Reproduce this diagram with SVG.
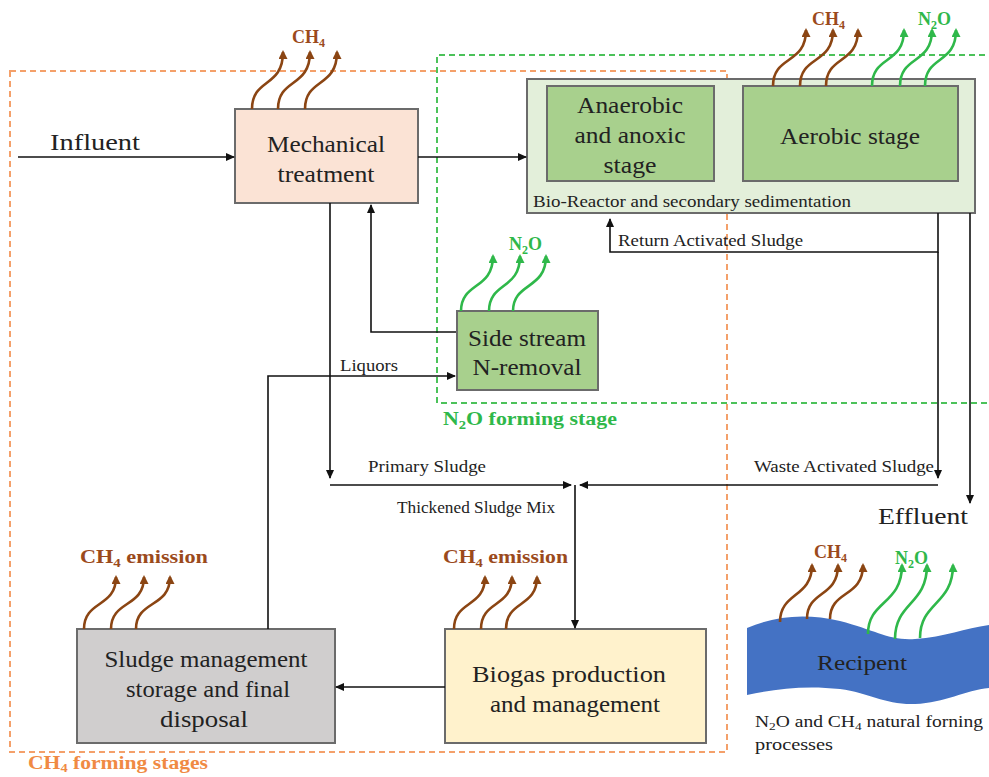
<svg xmlns="http://www.w3.org/2000/svg" width="989" height="777" viewBox="0 0 989 777" font-family="Liberation Serif, serif">
<style>
.box{stroke:#6b6b6b;stroke-width:2}
.t{fill:#222;text-anchor:middle}
.big{font-size:23px}
.sm{font-size:16px;fill:#222}
.con{fill:none;stroke:#111;stroke-width:1.6}
.ch4{fill:none;stroke:#8b4513;stroke-width:2.6}
.n2o{fill:none;stroke:#2fb84a;stroke-width:2.6}
.lb{font-weight:bold;font-size:18px}
.brn{fill:#9b4a1c}
.grn{fill:#2fb84a}
.org{fill:#f08a43}
</style>
<defs>
<marker id="ab" markerWidth="9" markerHeight="9" refX="8" refY="4.5" orient="auto" markerUnits="userSpaceOnUse"><path d="M0,0.5 L9,4.5 L0,8.5 Z" fill="#111"/></marker>
<marker id="mb" markerWidth="9" markerHeight="9" refX="7" refY="4.5" orient="auto" markerUnits="userSpaceOnUse"><path d="M0,0 L9,4.5 L0,9 Z" fill="#8b4513"/></marker>
<marker id="mg" markerWidth="9" markerHeight="9" refX="7" refY="4.5" orient="auto" markerUnits="userSpaceOnUse"><path d="M0,0 L9,4.5 L0,9 Z" fill="#2fb84a"/></marker>
</defs>
<rect width="989" height="777" fill="#fff"/>

<!-- stage regions -->
<g id="ch4-region">
<rect x="10" y="71" width="717" height="681" fill="none" stroke="#f4a06a" stroke-width="2" stroke-dasharray="6,4"/>
<text class="lb org" x="28" y="769" textLength="180" lengthAdjust="spacingAndGlyphs">CH<tspan font-size="12" dy="3">4</tspan><tspan dy="-3"> forming stages</tspan></text>
</g>
<g id="n2o-region">
<path d="M995,55 H437 V403 H995" fill="none" stroke="#4cc25a" stroke-width="2" stroke-dasharray="6,4"/>
<text class="lb grn" x="443" y="425" textLength="174" lengthAdjust="spacingAndGlyphs">N<tspan font-size="12" dy="4">2</tspan><tspan dy="-4">O forming stage</tspan></text>
</g>

<!-- nodes -->
<g id="mechanical">
<rect class="box" x="235" y="109" width="183" height="94" fill="#fbe3d5"/>
<text class="t big" x="326" y="152" textLength="118" lengthAdjust="spacingAndGlyphs">Mechanical</text>
<text class="t big" x="326" y="182" textLength="97" lengthAdjust="spacingAndGlyphs">treatment</text>
</g>
<g id="bioreactor">
<rect class="box" x="527" y="79" width="448" height="134" fill="#e3efda"/>
<text class="sm" x="533" y="207" textLength="318" lengthAdjust="spacingAndGlyphs">Bio-Reactor and secondary sedimentation</text>
</g>
<g id="anaerobic">
<rect class="box" x="547" y="86" width="167" height="95" fill="#a8d08d"/>
<text class="t big" x="630" y="113" textLength="106" lengthAdjust="spacingAndGlyphs">Anaerobic</text>
<text class="t big" x="630" y="143" textLength="111" lengthAdjust="spacingAndGlyphs">and anoxic</text>
<text class="t big" x="630" y="173" textLength="53" lengthAdjust="spacingAndGlyphs">stage</text>
</g>
<g id="aerobic">
<rect class="box" x="743" y="86" width="215" height="95" fill="#a8d08d"/>
<text class="t big" x="850" y="144" textLength="140" lengthAdjust="spacingAndGlyphs">Aerobic stage</text>
</g>
<g id="sidestream">
<rect class="box" x="457" y="311" width="141" height="79" fill="#a8d08d"/>
<text class="t big" x="527" y="346" textLength="118" lengthAdjust="spacingAndGlyphs">Side stream</text>
<text class="t big" x="527" y="375" textLength="109" lengthAdjust="spacingAndGlyphs">N-removal</text>
</g>
<g id="sludge">
<rect class="box" x="77" y="629" width="258" height="114" fill="#d0cece"/>
<text class="t big" x="206" y="667" textLength="203" lengthAdjust="spacingAndGlyphs">Sludge management</text>
<text class="t big" x="208" y="697" textLength="164" lengthAdjust="spacingAndGlyphs">storage and final</text>
<text class="t big" x="204" y="727" textLength="88" lengthAdjust="spacingAndGlyphs">disposal</text>
</g>
<g id="biogas">
<rect class="box" x="445" y="629" width="261" height="114" fill="#fff2cc"/>
<text class="t big" x="569" y="682" textLength="194" lengthAdjust="spacingAndGlyphs">Biogas production</text>
<text class="t big" x="575" y="712" textLength="170" lengthAdjust="spacingAndGlyphs">and management</text>
</g>
<g id="recipent">
<path d="M747,628 C775,616 805,613 840,621 C875,630 890,641 915,639 C945,637 965,628 989,625 L989,688 C965,690 945,703 915,704 C885,705 870,693 840,689 C805,685 775,689 747,695 Z" fill="#4472c4"/>
<text class="t" font-size="22" x="862" y="670" textLength="90" lengthAdjust="spacingAndGlyphs">Recipent</text>
<text class="sm" x="755" y="727" textLength="228" lengthAdjust="spacingAndGlyphs">N<tspan font-size="11" dy="3">2</tspan><tspan dy="-3">O and CH</tspan><tspan font-size="11" dy="3">4</tspan><tspan dy="-3"> natural forning</tspan></text>
<text class="sm" x="755" y="750" textLength="78" lengthAdjust="spacingAndGlyphs">processes</text>
</g>

<!-- emissions -->
<g id="emissions">
<path class="ch4" marker-end="url(#mb)" d="M252,109 C252,78 283,88 283,52"/>
<path class="ch4" marker-end="url(#mb)" d="M278,109 C278,78 310,88 310,52"/>
<path class="ch4" marker-end="url(#mb)" d="M305,109 C305,78 337,88 337,52"/>
<text class="lb brn" font-size="19" x="292" y="43">CH<tspan font-size="12" dy="4">4</tspan></text>

<path class="ch4" marker-end="url(#mb)" d="M773,86 C773,55 806,65 806,30"/>
<path class="ch4" marker-end="url(#mb)" d="M800,86 C800,55 833,65 833,30"/>
<path class="ch4" marker-end="url(#mb)" d="M826,86 C826,55 858,65 858,30"/>
<text class="lb brn" font-size="19" x="812" y="25">CH<tspan font-size="12" dy="4">4</tspan></text>
<path class="n2o" marker-end="url(#mg)" d="M872,86 C872,55 904,65 904,30"/>
<path class="n2o" marker-end="url(#mg)" d="M900,86 C900,55 932,65 932,30"/>
<path class="n2o" marker-end="url(#mg)" d="M925,86 C925,55 956,65 956,30"/>
<text class="lb grn" font-size="19" x="918" y="25">N<tspan font-size="12" dy="4">2</tspan><tspan dy="-4">O</tspan></text>

<path class="n2o" marker-end="url(#mg)" d="M461,311 C461,282 493,290 493,256"/>
<path class="n2o" marker-end="url(#mg)" d="M489,311 C489,282 520,290 520,256"/>
<path class="n2o" marker-end="url(#mg)" d="M513,311 C513,282 546,290 546,256"/>
<text class="lb grn" font-size="19" x="509" y="250">N<tspan font-size="12" dy="4">2</tspan><tspan dy="-4">O</tspan></text>

<path class="ch4" marker-end="url(#mb)" d="M84,629 C84,600 116,608 116,577"/>
<path class="ch4" marker-end="url(#mb)" d="M111,629 C111,600 144,608 144,577"/>
<path class="ch4" marker-end="url(#mb)" d="M136,629 C136,600 170,608 170,577"/>
<text class="lb brn" x="80" y="563" textLength="128" lengthAdjust="spacingAndGlyphs">CH<tspan font-size="12" dy="4">4</tspan><tspan dy="-4"> emission</tspan></text>

<path class="ch4" marker-end="url(#mb)" d="M454,629 C454,600 485,608 485,577"/>
<path class="ch4" marker-end="url(#mb)" d="M481,629 C481,600 512,608 512,577"/>
<path class="ch4" marker-end="url(#mb)" d="M506,629 C506,600 537,608 537,577"/>
<text class="lb brn" x="443" y="563" textLength="125" lengthAdjust="spacingAndGlyphs">CH<tspan font-size="12" dy="4">4</tspan><tspan dy="-4"> emission</tspan></text>

<path class="ch4" marker-end="url(#mb)" d="M780,622 C780,592 812,598 812,565"/>
<path class="ch4" marker-end="url(#mb)" d="M807,619 C807,590 838,598 838,565"/>
<path class="ch4" marker-end="url(#mb)" d="M830,619 C830,590 863,598 863,565"/>
<text class="lb brn" font-size="19" x="814" y="558">CH<tspan font-size="12" dy="4">4</tspan></text>
<path class="n2o" marker-end="url(#mg)" d="M868,634 C868,600 902,605 902,565"/>
<path class="n2o" marker-end="url(#mg)" d="M895,639 C895,602 927,605 927,565"/>
<path class="n2o" marker-end="url(#mg)" d="M920,638 C920,602 953,605 953,565"/>
<text class="lb grn" font-size="19" x="895" y="564">N<tspan font-size="12" dy="4">2</tspan><tspan dy="-4">O</tspan></text>
</g>

<!-- connectors -->
<g id="connectors">
<path class="con" marker-end="url(#ab)" d="M18,157 H234"/>
<path class="con" marker-end="url(#ab)" d="M418,157 H526"/>
<path class="con" marker-end="url(#ab)" d="M938,213 V252 H610 V219"/>
<path class="con" marker-end="url(#ab)" d="M970,213 V503"/>
<path class="con" marker-end="url(#ab)" d="M938,252 V478"/>
<path class="con" marker-end="url(#ab)" d="M938,485 H580"/>
<path class="con" marker-end="url(#ab)" d="M330,203 V478"/>
<path class="con" marker-end="url(#ab)" d="M330,485 H571"/>
<path class="con" marker-end="url(#ab)" d="M575,485 V628"/>
<path class="con" marker-end="url(#ab)" d="M456,332 H371 V205"/>
<path class="con" marker-end="url(#ab)" d="M268,629 V376 H455"/>
<path class="con" marker-end="url(#ab)" d="M445,687 H336"/>
</g>

<g id="labels">
<text class="t" font-size="24" x="50" y="150" style="text-anchor:start" textLength="90" lengthAdjust="spacingAndGlyphs">Influent</text>
<text class="t" font-size="24" x="878" y="524" style="text-anchor:start" textLength="90" lengthAdjust="spacingAndGlyphs">Effluent</text>
<text class="sm" x="618" y="246" textLength="185" lengthAdjust="spacingAndGlyphs">Return Activated Sludge</text>
<text class="sm" x="340" y="371" textLength="58" lengthAdjust="spacingAndGlyphs">Liquors</text>
<text class="sm" x="368" y="472" textLength="118" lengthAdjust="spacingAndGlyphs">Primary Sludge</text>
<text class="sm" x="754" y="472" textLength="180" lengthAdjust="spacingAndGlyphs">Waste Activated Sludge</text>
<text class="sm" x="397" y="513" textLength="158" lengthAdjust="spacingAndGlyphs">Thickened Sludge Mix</text>
</g>
</svg>
